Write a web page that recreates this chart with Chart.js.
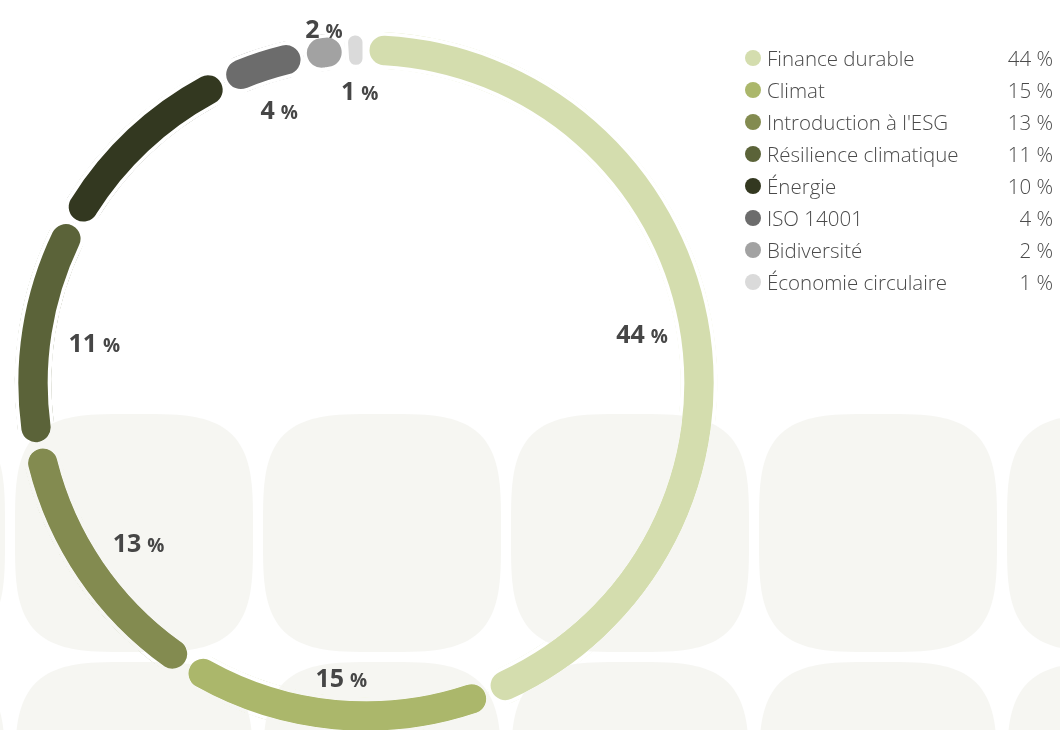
<!DOCTYPE html>
<html lang="fr">
<head>
<meta charset="utf-8">
<title>Répartition des formations</title>
<script src="https://cdn.jsdelivr.net/npm/chart.js@4"></script>
<style>
    html, body {
        margin: 0;
        padding: 0;
        width: 1060px;
        height: 730px;
        overflow: hidden;
        background: #fff;
    }
    #donut {
        position: absolute;
        left: 0;
        top: 0;
    }
    #legend {
        position: absolute;
        left: 745px;
        top: 42px;
        width: 308px;
        font-family: "Open Sans", sans-serif;
        font-weight: 300;
        font-size: 20.5px;
        color: #4a4a4a;
    }
    .row {
        display: flex;
        align-items: center;
        height: 32px;
    }
    .dot {
        width: 16px;
        height: 16px;
        border-radius: 50%;
        margin-right: 6px;
        flex: none;
    }
    .name {
        flex: 1;
        white-space: nowrap;
    }
    .val {
        text-align: right;
        white-space: nowrap;
    }
</style>
</head>
<body>
<canvas id="donut" width="1060" height="766"></canvas>
<div id="legend"></div>
<script>
var categories = [
    "Finance durable",
    "Climat",
    "Introduction à l'ESG",
    "Résilience climatique",
    "Énergie",
    "ISO 14001",
    "Bidiversité",
    "Économie circulaire"
];
var shares = [44, 15, 13, 11, 10, 4, 2, 1];
var colors = [
    "#d4ddae",
    "#abb76b",
    "#838b50",
    "#5b6339",
    "#333820",
    "#6c6c6c",
    "#a2a2a2",
    "#dadada"
];
// where each percentage sits: inside the ring, outside it, or not shown
var labelModes = ["inside", "inside", "inside", "inside", "none", "inside", "outside", "inside"];

// white inner border = the gap between two segments (half on each side)
var gapHalf = 3.5;

//- background tiles -
function squircle(ctx, cx, cy, a, b, n) {
    ctx.beginPath();
    for (var k = 0; k <= 160; k++) {
        var t = (k / 160) * Math.PI * 2;
        var c = Math.cos(t), s = Math.sin(t);
        var x = cx + a * Math.sign(c) * Math.pow(Math.abs(c), 2 / n);
        var y = cy + b * Math.sign(s) * Math.pow(Math.abs(s), 2 / n);
        if (k === 0) ctx.moveTo(x, y);
        else ctx.lineTo(x, y);
    }
    ctx.closePath();
    ctx.fill();
}

var tilesPlugin = {
    id: "tiles",
    beforeDraw: function (chart) {
        var ctx = chart.ctx;
        ctx.save();
        ctx.fillStyle = "#ffffff";
        ctx.fillRect(0, 0, chart.width, chart.height);
        ctx.restore();
    },
    // "darken" keeps the ring colours and only tints the white around them
    afterDatasetsDraw: function (chart) {
        var ctx = chart.ctx;
        ctx.save();
        ctx.globalCompositeOperation = "darken";
        ctx.fillStyle = "#f6f6f2";
        for (var row = 0; row < 2; row++) {
            for (var col = -1; col < 5; col++) {
                squircle(ctx, 134 + col * 248, 533 + row * 248, 119, 119, 3.6);
            }
        }
        ctx.restore();
    }
};

//- percentage labels -
var percentLabels = {
    id: "percentLabels",
    afterDatasetsDraw: function (chart) {
        var ctx = chart.ctx;
        var arcs = chart.getDatasetMeta(0).data;
        ctx.save();
        ctx.fillStyle = "#464646";
        ctx.textBaseline = "alphabetic";
        ctx.textAlign = "left";
        arcs.forEach(function (arc, i) {
            var mode = labelModes[i];
            if (mode === "none") return;
            var mid = (arc.startAngle + arc.endAngle) / 2;
            var ux = Math.cos(mid), uy = Math.sin(mid);
            var num = String(chart.data.datasets[0].data[i]);
            ctx.font = "700 25px 'Open Sans'";
            var wNum = ctx.measureText(num).width;
            ctx.font = "700 19px 'Open Sans'";
            var wPct = ctx.measureText("%").width;
            var gap = 6;
            var w = wNum + gap + wPct;
            var h = 18;
            var proj = Math.abs(ux) * w / 2 + Math.abs(uy) * h / 2;
            var r = mode === "inside"
                ? arc.innerRadius + gapHalf - 13 - proj
                : arc.outerRadius - gapHalf + 1 + proj;
            var cx = arc.x + ux * r + 3;
            var cy = arc.y + uy * r + 3;
            var left = cx - w / 2;
            var base = cy + 9;
            ctx.font = "700 25px 'Open Sans'";
            ctx.fillText(num, left, base);
            ctx.font = "700 19px 'Open Sans'";
            ctx.fillText("%", left + wNum + gap, base);
        });
        ctx.restore();
    }
};

var donutChart = new Chart(document.getElementById("donut").getContext("2d"), {
    type: "doughnut",
    data: {
        labels: categories,
        datasets: [
            {
                data: shares,
                backgroundColor: colors,
                borderColor: "#ffffff",
                borderWidth: gapHalf,
                borderAlign: "inner",
                borderRadius: 20,
                radius: 348 + gapHalf,
                cutout: ((318 - gapHalf) / (348 + gapHalf) * 100) + "%"
            }
        ]
    },
    options: {
        responsive: false,
        animation: false,
        layout: {
            padding: { left: 0, right: 328, top: 0, bottom: 0 }
        },
        plugins: {
            legend: { display: false },
            tooltip: { enabled: false }
        }
    },
    plugins: [tilesPlugin, percentLabels]
});

//- legend with values -
var legend = document.getElementById("legend");
categories.forEach(function (name, i) {
    var row = document.createElement("div");
    row.className = "row";
    var dot = document.createElement("span");
    dot.className = "dot";
    dot.style.background = colors[i];
    var label = document.createElement("span");
    label.className = "name";
    label.textContent = name;
    var val = document.createElement("span");
    val.className = "val";
    val.textContent = shares[i] + " %";
    row.appendChild(dot);
    row.appendChild(label);
    row.appendChild(val);
    legend.appendChild(row);
});
</script>
</body>
</html>
